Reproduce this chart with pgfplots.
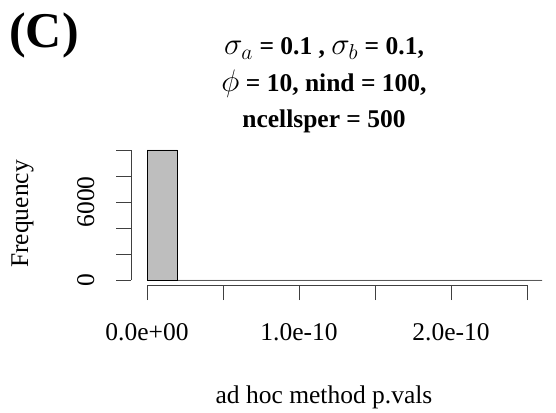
\documentclass[border=0pt]{standalone}
\usepackage{pgfplots}
\pgfplotsset{compat=1.18}
\usepackage{graphicx}
\usepackage{fontspec}
\setmainfont{Liberation Serif}
\definecolor{rgray}{HTML}{BEBEBE}
\newcommand{\m}[1]{\scalebox{1.25}{$#1$}}
\begin{document}
\begin{tikzpicture}[x=1pt,y=1pt]
\path[use as bounding box] (0,0) rectangle (556,412);
\begin{axis}[
  at={(147pt,132pt)}, anchor=south west,
  scale only axis, width=380pt, height=130pt,
  xmin=0, xmax=2.5e-10, ymin=0, ymax=10000,
  clip=false, scaled ticks=false,
  axis x line=bottom, axis y line=left,
  axis line style={-, black!75, line width=0.8pt},
  axis x line shift=5.2pt, axis y line shift=16pt,
  tick align=outside, major tick length=15pt,
  tick style={black!75, line width=0.8pt},
  xtick={0,5e-11,1e-10,1.5e-10,2e-10,2.5e-10},
  xticklabels={0.0e+00,,1.0e-10,,2.0e-10,},
  ytick={0,2000,4000,6000,8000,10000},
  yticklabels={0,,,6000,,},
  ticklabel style={font=\fontsize{25.5}{29}\selectfont},
  yticklabel style={rotate=90, anchor=south},
  xticklabel shift=20pt, yticklabel shift=18pt,
  minor tick num=0,
]
\addplot[ybar interval, fill=rgray, draw=black, line width=0.8pt] table {
x y
0 10000
2e-11 0
4e-11 0
6e-11 0
8e-11 0
1e-10 0
1.2e-10 0
1.4e-10 0
1.6e-10 0
1.8e-10 0
2e-10 0
2.2e-10 0
2.4e-10 0
2.6e-10 0
};
\end{axis}
\node[anchor=center, font=\fontsize{50}{54}\selectfont\bfseries] at (44,377) {(C)};
\node[anchor=base, font=\fontsize{25.5}{29}\selectfont\bfseries] at (324,357) {\m{\sigma_a} = 0.1 , \m{\sigma_b} = 0.1,};
\node[anchor=base, font=\fontsize{25.5}{29}\selectfont\bfseries] at (324,320) {\m{\phi} = 10, nind = 100,};
\node[anchor=base, font=\fontsize{25.5}{29}\selectfont\bfseries] at (324,284) {ncellsper = 500};
\node[anchor=base, font=\fontsize{25.5}{29}\selectfont] at (324,9) {ad hoc method p.vals};
\node[anchor=base, rotate=90, font=\fontsize{25.5}{29}\selectfont] at (28,198) {Frequency};
\end{tikzpicture}
\end{document}
